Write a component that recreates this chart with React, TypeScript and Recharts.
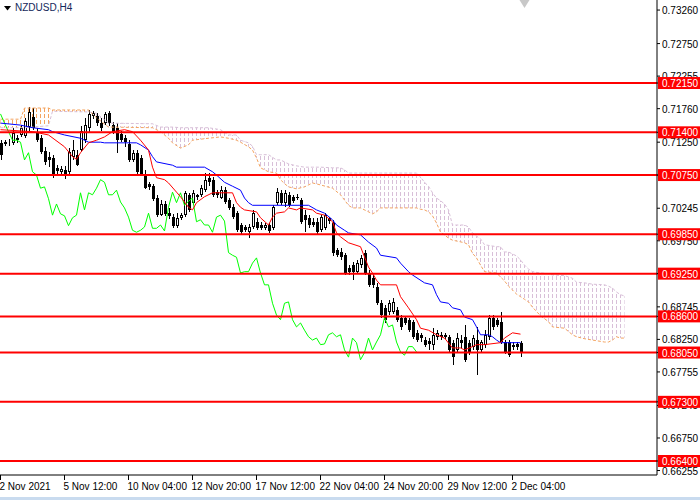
import { Area, Bar, ComposedChart, Line, ReferenceDot, ReferenceLine, XAxis, YAxis } from "recharts";

// NZDUSD H4 candles, one per bar: [open, high, low, close]
const candles: [number, number, number, number][] = [
  [0.7124, 0.7128, 0.7098, 0.7106], [0.7122, 0.7128, 0.7119, 0.7125], [0.7124, 0.713, 0.7119, 0.7125], [0.7124, 0.7147, 0.7121, 0.7139],
  [0.7128, 0.7136, 0.7124, 0.7131], [0.7136, 0.7151, 0.7133, 0.7147], [0.7134, 0.7162, 0.7131, 0.7157], [0.7148, 0.7179, 0.7139, 0.7171],
  [0.7163, 0.7177, 0.7144, 0.7147], [0.7141, 0.7147, 0.7125, 0.7128], [0.7131, 0.7136, 0.7107, 0.711], [0.7112, 0.7118, 0.709, 0.7095],
  [0.7103, 0.711, 0.7087, 0.7098], [0.7101, 0.7106, 0.7071, 0.7074], [0.7086, 0.709, 0.7077, 0.7081], [0.708, 0.7089, 0.7074, 0.7084],
  [0.7083, 0.7089, 0.7069, 0.7075], [0.708, 0.7116, 0.7077, 0.711], [0.7103, 0.7128, 0.7098, 0.7113], [0.7106, 0.7113, 0.7089, 0.709],
  [0.7113, 0.715, 0.711, 0.7142], [0.7128, 0.7162, 0.7124, 0.7151], [0.7147, 0.7174, 0.7141, 0.7168], [0.7165, 0.7172, 0.716, 0.7169],
  [0.7165, 0.7169, 0.715, 0.7154], [0.7154, 0.7162, 0.7142, 0.7147], [0.7154, 0.7171, 0.7151, 0.7168], [0.7169, 0.7172, 0.715, 0.7154],
  [0.7151, 0.7156, 0.7138, 0.7141], [0.7147, 0.7154, 0.7109, 0.7128], [0.7138, 0.7142, 0.7125, 0.7128], [0.7131, 0.7136, 0.7118, 0.7125],
  [0.7122, 0.7128, 0.7095, 0.7098], [0.7098, 0.7113, 0.7095, 0.7109], [0.7109, 0.7113, 0.7077, 0.708], [0.7101, 0.7106, 0.7074, 0.7075],
  [0.7077, 0.7083, 0.7054, 0.7055], [0.7061, 0.7064, 0.7052, 0.7057], [0.7058, 0.7061, 0.7036, 0.7039], [0.704, 0.7045, 0.7011, 0.7014],
  [0.7014, 0.7037, 0.7013, 0.7031], [0.7031, 0.7036, 0.7013, 0.7016], [0.7017, 0.7025, 0.7008, 0.7013], [0.7011, 0.7016, 0.6994, 0.6998],
  [0.6998, 0.7017, 0.6994, 0.701], [0.701, 0.7017, 0.7007, 0.7014], [0.7014, 0.7051, 0.7011, 0.7048], [0.7045, 0.7048, 0.7019, 0.7022],
  [0.7033, 0.7052, 0.7029, 0.7048], [0.7042, 0.7046, 0.7037, 0.7045], [0.7045, 0.706, 0.7042, 0.7055], [0.7052, 0.7078, 0.7049, 0.7068],
  [0.707, 0.7078, 0.7058, 0.7064], [0.7068, 0.7072, 0.7042, 0.7045], [0.7049, 0.7052, 0.704, 0.7045], [0.704, 0.7058, 0.7039, 0.7052],
  [0.7052, 0.7057, 0.7031, 0.7034], [0.7037, 0.704, 0.7022, 0.7025], [0.7026, 0.7031, 0.7008, 0.7011], [0.7017, 0.702, 0.6988, 0.6991],
  [0.6999, 0.7002, 0.6984, 0.6988], [0.6996, 0.6999, 0.6988, 0.6991], [0.6988, 0.7001, 0.6979, 0.6996], [0.6996, 0.7022, 0.6993, 0.7017],
  [0.7004, 0.701, 0.6991, 0.6994], [0.6999, 0.7004, 0.6991, 0.6994], [0.6994, 0.7002, 0.6991, 0.6999], [0.6999, 0.7002, 0.6987, 0.699],
  [0.6994, 0.7029, 0.6991, 0.7026], [0.7033, 0.7055, 0.7029, 0.7049], [0.7048, 0.7052, 0.7029, 0.7033], [0.7033, 0.7052, 0.7026, 0.7048],
  [0.7045, 0.7049, 0.7026, 0.7029], [0.7042, 0.7045, 0.7033, 0.7035], [0.7042, 0.7046, 0.7037, 0.704], [0.7037, 0.704, 0.7001, 0.7004],
  [0.7014, 0.7022, 0.6988, 0.7007], [0.701, 0.7014, 0.6994, 0.6999], [0.7004, 0.701, 0.6996, 0.6999], [0.7004, 0.701, 0.6985, 0.6988],
  [0.6991, 0.7014, 0.6988, 0.7011], [0.6994, 0.7017, 0.6991, 0.7014], [0.701, 0.7011, 0.7001, 0.7005], [0.7002, 0.7007, 0.6952, 0.6957],
  [0.6961, 0.6964, 0.695, 0.6953], [0.6958, 0.6964, 0.6946, 0.695], [0.6953, 0.6956, 0.6923, 0.6926], [0.6934, 0.6938, 0.6923, 0.6928],
  [0.6938, 0.6943, 0.6915, 0.6928], [0.6928, 0.6946, 0.6925, 0.6941], [0.6938, 0.6953, 0.6934, 0.6949], [0.6956, 0.6961, 0.6923, 0.6926],
  [0.6926, 0.6931, 0.6905, 0.6908], [0.6918, 0.6923, 0.6903, 0.6908], [0.6905, 0.6911, 0.6877, 0.688], [0.688, 0.6885, 0.6858, 0.6862],
  [0.6873, 0.6877, 0.685, 0.6855], [0.6867, 0.6885, 0.6862, 0.688], [0.6867, 0.6888, 0.6864, 0.6882], [0.687, 0.6874, 0.6852, 0.6855],
  [0.6858, 0.6862, 0.6839, 0.6844], [0.6858, 0.6861, 0.6847, 0.685], [0.6855, 0.6858, 0.6836, 0.6839], [0.6852, 0.6855, 0.6826, 0.6829],
  [0.6835, 0.6839, 0.6821, 0.6824], [0.6832, 0.6835, 0.6821, 0.6827], [0.6824, 0.6829, 0.6814, 0.6817], [0.6823, 0.6827, 0.6809, 0.6818],
  [0.6817, 0.6842, 0.6809, 0.6832], [0.6829, 0.6839, 0.6824, 0.6835], [0.6832, 0.6836, 0.6824, 0.6829], [0.6829, 0.6835, 0.6826, 0.6832],
  [0.6829, 0.6832, 0.6806, 0.6809], [0.682, 0.6824, 0.6786, 0.6798], [0.6809, 0.6835, 0.6806, 0.6827], [0.6824, 0.6832, 0.6812, 0.682],
  [0.6829, 0.6847, 0.6791, 0.6794], [0.682, 0.6824, 0.6801, 0.6805], [0.6814, 0.6832, 0.6809, 0.6827], [0.6824, 0.6844, 0.6771, 0.6809],
  [0.6809, 0.6824, 0.6806, 0.6821], [0.6817, 0.6839, 0.6812, 0.6832], [0.6829, 0.6862, 0.6824, 0.6858], [0.6858, 0.6862, 0.6839, 0.6844],
  [0.6855, 0.6858, 0.6844, 0.6847], [0.6852, 0.6867, 0.6818, 0.6821], [0.6821, 0.6824, 0.6803, 0.6806], [0.6821, 0.6824, 0.6798, 0.6801],
  [0.6817, 0.6821, 0.6809, 0.6814], [0.6818, 0.6821, 0.6809, 0.6814], [0.682, 0.6822, 0.6798, 0.6806],
];

// Ichimoku lines as [bar, price] vertices
const tenkan: [number, number][] = [
  [0, 0.7144], [8, 0.7141], [12, 0.7136], [16, 0.7118], [18, 0.7103], [19, 0.7099], [20, 0.7109], [22, 0.7124], [24, 0.7128],
  [26, 0.7133], [28, 0.7141], [31, 0.7144], [33, 0.7141], [35, 0.7128], [37, 0.7113], [38, 0.7087], [39, 0.7071], [41, 0.7068],
  [42, 0.7063], [44, 0.7049], [45, 0.7042], [47, 0.7026], [48, 0.7022], [49, 0.7033], [51, 0.7042], [53, 0.7048], [58, 0.7048],
  [59, 0.7033], [60, 0.7026], [61, 0.7022], [64, 0.7019], [65, 0.701], [67, 0.6999], [68, 0.7011], [69, 0.7017], [71, 0.7019],
  [72, 0.7025], [74, 0.7022], [75, 0.7025], [78, 0.7022], [79, 0.7017], [81, 0.7014], [83, 0.7004], [84, 0.6987], [85, 0.6981],
  [87, 0.6972], [90, 0.6966], [92, 0.6935], [93, 0.6926], [94, 0.6915], [95, 0.6908], [99, 0.6908], [100, 0.689], [102, 0.6873],
  [104, 0.6855], [105, 0.6842], [107, 0.6839], [109, 0.6832], [111, 0.6827], [113, 0.6812], [115, 0.6812], [116, 0.6809],
  [118, 0.6814], [119, 0.6817], [121, 0.6817], [125, 0.682], [126, 0.6827], [128, 0.6835], [130, 0.6833],
];

const kijun: [number, number][] = [
  [0, 0.7154], [5, 0.7151], [8, 0.7147], [12, 0.7144], [13, 0.7141], [16, 0.7136], [20, 0.7131], [22, 0.7125], [25, 0.7125],
  [26, 0.7124], [34, 0.7124], [35, 0.7121], [37, 0.7113], [38, 0.7103], [39, 0.7095], [43, 0.709], [44, 0.7087], [51, 0.7087],
  [53, 0.708], [54, 0.7075], [56, 0.7064], [58, 0.7058], [60, 0.7052], [61, 0.704], [62, 0.7033], [63, 0.7029], [77, 0.7029],
  [79, 0.7022], [81, 0.7017], [83, 0.7007], [84, 0.6999], [86, 0.6991], [87, 0.6987], [90, 0.6984], [92, 0.6973], [94, 0.6964],
  [95, 0.6953], [99, 0.6949], [100, 0.6941], [102, 0.6928], [103, 0.6923], [106, 0.6911], [108, 0.6908], [109, 0.6893],
  [110, 0.6882], [112, 0.688], [113, 0.6873], [115, 0.687], [116, 0.6859], [118, 0.6855], [119, 0.6844], [120, 0.6832],
  [122, 0.6832], [123, 0.6829], [124, 0.6824], [125, 0.682], [130, 0.682],
];

// cloud vertices: [bar, senkou A, senkou B]
const cloud: [number, number, number][] = [
  [0, 0.716, 0.7147], [5, 0.716, 0.7147], [6, 0.7177, 0.7147], [12, 0.7177, 0.715], [13, 0.7174, 0.7172], [22, 0.7174, 0.7171],
  [24, 0.7162, 0.7169], [27, 0.7148, 0.7154], [38, 0.7147, 0.7153], [40, 0.7141, 0.7148], [42, 0.7131, 0.7148], [43, 0.7124, 0.7148],
  [45, 0.7116, 0.7147], [47, 0.7121, 0.7147], [48, 0.7128, 0.7147], [52, 0.7131, 0.7147], [55, 0.7133, 0.7144], [57, 0.7131, 0.7136],
  [59, 0.7128, 0.7136], [60, 0.7125, 0.7128], [62, 0.7118, 0.7124], [63, 0.7113, 0.7119], [64, 0.7101, 0.7106], [65, 0.7086, 0.7106],
  [67, 0.708, 0.7106], [69, 0.7078, 0.7098], [70, 0.7068, 0.7098], [71, 0.7062, 0.7095], [72, 0.7057, 0.7092], [74, 0.7054, 0.7089],
  [76, 0.7057, 0.7087], [78, 0.7063, 0.7087], [80, 0.706, 0.7087], [83, 0.7055, 0.7086], [85, 0.7045, 0.7086], [86, 0.7037, 0.7083],
  [87, 0.7029, 0.7078], [88, 0.7025, 0.7078], [90, 0.7025, 0.7078], [92, 0.7019, 0.7078], [93, 0.7016, 0.7078], [94, 0.7019, 0.7078],
  [95, 0.7025, 0.7078], [104, 0.7025, 0.7078], [105, 0.7023, 0.7072], [106, 0.7022, 0.7064], [107, 0.7019, 0.7058],
  [108, 0.7013, 0.7048], [109, 0.7002, 0.704], [110, 0.6988, 0.7036], [111, 0.6984, 0.7031], [112, 0.6979, 0.7022],
  [113, 0.6976, 0.6999], [116, 0.6972, 0.6999], [117, 0.6969, 0.6996], [118, 0.6956, 0.6987], [119, 0.6949, 0.6982],
  [120, 0.6938, 0.6978], [121, 0.6928, 0.6969], [124, 0.6926, 0.6966], [125, 0.692, 0.6966], [126, 0.6914, 0.6958],
  [127, 0.6906, 0.6958], [128, 0.69, 0.6955], [129, 0.6894, 0.6952], [130, 0.689, 0.6946], [131, 0.6886, 0.6938],
  [132, 0.6882, 0.6932], [133, 0.6874, 0.6928], [135, 0.6861, 0.6926], [137, 0.6852, 0.6925], [138, 0.6844, 0.6923],
  [141, 0.6842, 0.6922], [143, 0.6832, 0.6918], [144, 0.6829, 0.6912], [146, 0.6826, 0.6911], [148, 0.6824, 0.6909],
  [151, 0.6821, 0.6908], [152, 0.6821, 0.6906], [153, 0.6824, 0.6903], [154, 0.6829, 0.6897], [155, 0.6827, 0.6893],
  [156, 0.6827, 0.6891],
];

const CHIKOU_SHIFT = 26;
const ORANGE_UNTIL = 22;

const levels = [0.7215, 0.714, 0.7075, 0.6985, 0.6925, 0.686, 0.6805, 0.673, 0.664];
const priceTicks = [0.66255, 0.6675, 0.67245, 0.67755, 0.6825, 0.68745, 0.6925, 0.6975, 0.70245, 0.7075, 0.7125, 0.7176, 0.72255, 0.7275, 0.7326];
const timeTicks = [0, 16, 32, 48, 64, 80, 96, 112, 128];
const timeLabels = ["2 Nov 2021", "5 Nov 12:00", "10 Nov 04:00", "12 Nov 20:00", "17 Nov 12:00", "22 Nov 04:00", "24 Nov 20:00", "29 Nov 12:00", "2 Dec 04:00"];
const PRICE_DOMAIN = [0.66187, 0.73413];

type Row = {
  idx: number;
  o?: number; h?: number; l?: number; c?: number;
  tenkan?: number; kijun?: number; chikou?: number;
  spanA?: number; spanB?: number;
};

const rows = new Map<number, Row>();
const row = (i: number) => {
  if (!rows.has(i)) rows.set(i, { idx: i });
  return rows.get(i)!;
};
candles.forEach(([o, h, l, c], i) => Object.assign(row(i), { o, h, l, c }));
// chikou span is the close drawn 26 bars back
candles.forEach(([, , , c], i) => {
  if (i >= CHIKOU_SHIFT) row(i - CHIKOU_SHIFT).chikou = c;
});
tenkan.forEach(([i, v]) => (row(i).tenkan = v));
kijun.forEach(([i, v]) => (row(i).kijun = v));
cloud.forEach(([i, a, b]) => Object.assign(row(i), { spanA: a, spanB: b }));
const table = [...rows.values()].sort((p, q) => p.idx - q.idx);

// level tags come after the ordinary ticks so they are painted over them
const axisTicks = [...priceTicks, ...levels];
const FONT = "'Liberation Sans', Arial, sans-serif";

function Candle(props: any) {
  const { x, y, width, height, payload } = props;
  if (payload?.h == null || !Number.isFinite(y)) return <g />;
  const { o, h, l, c } = payload;
  const px = Math.round(x + width / 2);
  const span = h - l || 1;
  const at = (v: number) => y + ((h - v) / span) * height;
  const top = Math.round(at(Math.max(o, c)));
  const bot = Math.max(Math.round(at(Math.min(o, c))), top + 1);
  return (
    <g shapeRendering="crispEdges">
      <line x1={px + 0.5} x2={px + 0.5} y1={y} y2={y + height} stroke="#000" strokeWidth={1} />
      {c >= o ? (
        <rect x={px - 0.5} y={top + 0.5} width={2} height={Math.max(bot - top - 1, 0)} fill="#fff" stroke="#000" strokeWidth={1} />
      ) : (
        <rect x={px - 1} y={top} width={3} height={bot - top} fill="#000" />
      )}
    </g>
  );
}

function PriceTick(props: any) {
  const { x, y, payload, index } = props;
  const label = Number(payload.value).toFixed(5);
  if (index >= priceTicks.length) {
    return (
      <g>
        <rect x={x - 4} y={y - 6} width={42} height={12} fill="#ff0000" />
        <text x={x} y={y + 4} fill="#fff" fontSize={10} fontFamily={FONT}>
          {label}
        </text>
      </g>
    );
  }
  return (
    <text x={x} y={y + 4} fill="#000" fontSize={10} fontFamily={FONT}>
      {label}
    </text>
  );
}

function TimeTick(props: any) {
  const { x, y, payload } = props;
  const k = timeTicks.indexOf(payload.value);
  return (
    <text x={x - 1} y={y + 8} fontSize={10} fill="#000" fontFamily={FONT} textAnchor="start">
      {timeLabels[k]}
    </text>
  );
}

function ShiftMarker(props: any) {
  const { cx, cy } = props;
  return <polygon points={`${cx - 5},${cy} ${cx + 5},${cy} ${cx},${cy + 8}`} fill="#c8c8c8" />;
}

export default function App() {
  return (
    <div style={{ position: "absolute", left: 0, top: 0, width: 700, height: 500, background: "#fff", fontFamily: FONT }}>
      <ComposedChart width={700} height={497} data={table} margin={{ top: 0, right: 0, bottom: 0, left: 0 }}>
        <defs>
          <pattern id="thistleHatch" width={4} height={6} patternUnits="userSpaceOnUse">
            <line x1={0.5} y1={0} x2={0.5} y2={4} stroke="#d8bfd8" strokeWidth={1} />
          </pattern>
          <pattern id="orangeHatch" width={4} height={6} patternUnits="userSpaceOnUse">
            <line x1={0.5} y1={0} x2={0.5} y2={4} stroke="#f4a460" strokeWidth={1} />
          </pattern>
        </defs>
        <XAxis
          dataKey="idx"
          type="number"
          domain={[-0.125, 164.125]}
          ticks={timeTicks}
          interval={0}
          allowDataOverflow
          height={22}
          tickSize={5}
          tickMargin={2}
          tick={<TimeTick />}
          axisLine={{ stroke: "#000" }}
          tickLine={{ stroke: "#000" }}
        />
        <YAxis
          orientation="right"
          type="number"
          domain={PRICE_DOMAIN}
          ticks={axisTicks}
          interval={0}
          allowDataOverflow
          width={43}
          tickSize={3}
          tickMargin={2}
          tick={<PriceTick />}
          axisLine={{ stroke: "#000" }}
          tickLine={{ stroke: "#000" }}
        />
        <Area
          dataKey={(r: Row) => (r.spanA != null && r.idx <= ORANGE_UNTIL ? [r.spanB, r.spanA] : null)}
          stroke="none"
          fill="url(#orangeHatch)"
          fillOpacity={1}
          connectNulls
          dot={false}
          activeDot={false}
          isAnimationActive={false}
        />
        <Area
          dataKey={(r: Row) => (r.spanA != null && r.idx >= ORANGE_UNTIL ? [r.spanA, r.spanB] : null)}
          stroke="none"
          fill="url(#thistleHatch)"
          fillOpacity={1}
          connectNulls
          dot={false}
          activeDot={false}
          isAnimationActive={false}
        />
        <Line dataKey="spanB" stroke="#d8bfd8" strokeWidth={1} strokeDasharray="3 2" dot={false} activeDot={false} connectNulls isAnimationActive={false} />
        <Line dataKey="spanA" stroke="#f4a460" strokeWidth={1} strokeDasharray="3 2" dot={false} activeDot={false} connectNulls isAnimationActive={false} />
        <Bar
          dataKey={(r: Row) => (r.h != null ? [r.l, r.h] : null)}
          barSize={3}
          shape={<Candle />}
          isAnimationActive={false}
        />
        <Line dataKey="chikou" stroke="#00ff00" strokeWidth={1} dot={false} activeDot={false} connectNulls isAnimationActive={false} />
        <Line dataKey="kijun" stroke="#0000ff" strokeWidth={1} dot={false} activeDot={false} connectNulls isAnimationActive={false} />
        <Line dataKey="tenkan" stroke="#ff0000" strokeWidth={1} dot={false} activeDot={false} connectNulls isAnimationActive={false} />
        {levels.map((lv) => (
          <ReferenceLine key={lv} y={lv} stroke="#ff0000" strokeWidth={2} />
        ))}
        <ReferenceDot x={131} y={0.73413} r={5} shape={<ShiftMarker />} ifOverflow="visible" />
      </ComposedChart>
      <div style={{ position: "absolute", left: 0, top: 497, width: 700, height: 3, background: "#c9dbef" }} />
      <div style={{ position: "absolute", left: 4, top: 2, display: "flex", alignItems: "center", gap: 4, fontSize: 10, color: "#14285a" }}>
        <svg width={7} height={5} style={{ marginTop: 1 }}>
          <polygon points="0,0 7,0 3.5,4.5" fill="#000" />
        </svg>
        <span>NZDUSD,H4</span>
      </div>
    </div>
  );
}
